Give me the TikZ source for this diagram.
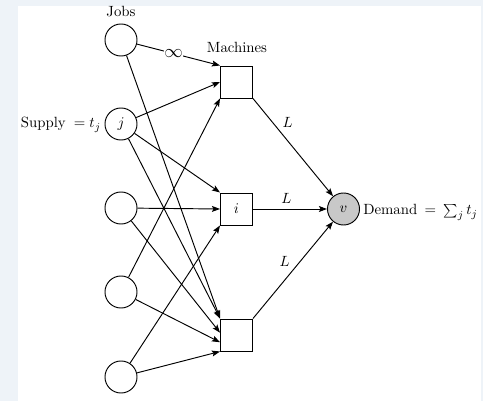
\documentclass[tikz,border=0pt]{standalone}
\usetikzlibrary{arrows.meta,calc}
\definecolor{bgc}{RGB}{238,243,248}
\definecolor{vfill}{RGB}{200,200,200}
\begin{document}
\begin{tikzpicture}[x=0.74pt,y=-0.74pt,
  every node/.append style={font=\fontsize{10.95}{13}\selectfont},
  job/.style={circle,draw,line width=0.7pt,minimum size=23.7pt,inner sep=0pt},
  mach/.style={rectangle,draw,line width=0.7pt,minimum size=23.7pt,inner sep=0pt},
  sink/.style={job,fill=vfill},
  arc/.style={line width=0.7pt,-{Stealth[length=6pt,width=4.4pt,inset=1.2pt]}},
  lab/.style={inner sep=0pt},
]
\fill[bgc] (0,0) rectangle (483,401);
\fill[white] (18,6) rectangle (481,401);
\useasboundingbox (0,0) rectangle (483,401);

\node[job] (J1) at (121,40) {};
\node[job] (J2) at (121,124) {$j$};
\node[job] (J3) at (121,208) {};
\node[job] (J4) at (121,292) {};
\node[job] (J5) at (121,377) {};
\node[mach] (M1) at (236.5,82) {};
\node[mach] (Mi) at (236.5,209) {$i$};
\node[mach] (M3) at (236.5,335) {};
\node[sink] (v) at (343.5,209) {$v$};

\node[lab,anchor=base] (jobs) at (121,17) {Jobs};
\node[lab,anchor=base] (machines) at (237,53) {Machines};
\node[lab,anchor=base east] (supply) at (101,128) {Supply\hspace{6pt}$= t_j$};
\node[lab,anchor=base west] (demand) at (363,215) {Demand\enspace$=$\enspace$\sum_j t_j$};

\draw[arc] (J1) -- node[pos=0.44,fill=white,inner sep=0.5pt]{\scalebox{1.25}{$\infty$}} (M1.north west);
\draw[arc] (J1) -- (M3.north west);
\draw[arc] (J2) -- (M1.west);
\draw[arc] (J2) -- (Mi.north west);
\draw[arc] (J2) -- (M3.north west);
\draw[arc] (J3) -- (Mi.west);
\draw[arc] (J3) -- ($(M3.north west)!0.43!(M3.south west)$);
\draw[arc] (J4) -- (M1.south west);
\draw[arc] (J4) -- ($(M3.north west)!0.72!(M3.south west)$);
\draw[arc] (J5) -- (Mi.south west);
\draw[arc] (J5) -- (M3.south west);

\draw[arc] (M1.south east) -- node[pos=0.33,anchor=south west,inner sep=2pt]{$L$} (v);
\draw[arc] (Mi) -- node[pos=0.45,above,inner sep=4pt]{$L$} (v);
\draw[arc] (M3.north east) -- node[pos=0.5,anchor=south east,inner sep=2pt]{$L$} (v);
\end{tikzpicture}
\end{document}
